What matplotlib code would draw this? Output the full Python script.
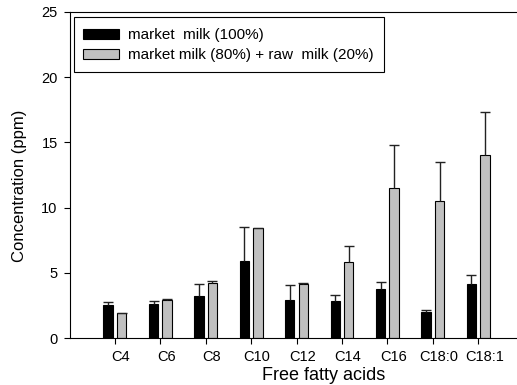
import numpy as np
import matplotlib
matplotlib.use("Agg")
import matplotlib.pyplot as plt
from matplotlib.transforms import ScaledTranslation
from matplotlib.patches import Rectangle

plt.rcParams['font.family'] = ['Liberation Sans', 'DejaVu Sans']

acids = ["C4", "C6", "C8", "C10", "C12", "C14", "C16", "C18:0", "C18:1"]
market_mean = [2.53, 2.60, 3.22, 5.90, 2.91, 2.86, 3.76, 1.99, 4.14]
market_err = [0.28, 0.26, 0.97, 2.60, 1.18, 0.46, 0.56, 0.21, 0.74]
mixed_mean = [1.92, 2.94, 4.22, 8.41, 4.19, 5.83, 11.50, 10.48, 14.06]
mixed_err = [0.03, 0.10, 0.20, 0.04, 0.03, 1.20, 3.28, 3.04, 3.30]

W, H, DPI = 517, 385, 100
fig = plt.figure(figsize=(W / DPI, H / DPI), dpi=DPI)

x0_px, y0_px, ytop_px = 69.5, 338.3, 11.7
unit_px = 45.41
ax = fig.add_axes([x0_px / W, (H - y0_px) / H, 10 * unit_px / W, (y0_px - ytop_px) / H])

pos = np.arange(1, len(acids) + 1)
bw = 0.205
off = 0.149
zeros = np.zeros(len(acids))


def upper_errorbars(x, mean, err):
    # one-sided (upper) error bars: hide the cap sitting on the bar top
    _, caps, _ = ax.errorbar(x, mean, yerr=[zeros, err], fmt="none",
                             ecolor="#222222", elinewidth=1.0,
                             capsize=3.6, capthick=1.0, zorder=3)
    for c in caps:
        if np.allclose(c.get_ydata(), mean):
            c.set_visible(False)


b1 = ax.bar(pos - off, market_mean, bw, color="black", edgecolor="black", linewidth=0.8,
            zorder=2)
b2 = ax.bar(pos + off, mixed_mean, bw, color="#c0c0c0", edgecolor="black", linewidth=0.8,
            zorder=2)
upper_errorbars(pos - off, np.array(market_mean), np.array(market_err))
upper_errorbars(pos + off, np.array(mixed_mean), np.array(mixed_err))

ax.set_xlim(0, 10)
ax.set_ylim(0, 25)
ax.set_xticks(pos)
ax.set_xticklabels(acids)
ax.set_yticks([0, 5, 10, 15, 20, 25])
ax.tick_params(direction="out", length=4.5, width=0.8, labelsize=10.5)
ax.tick_params(axis="y", pad=4)
ax.tick_params(axis="x", pad=4)
shift = ScaledTranslation(6 / DPI, 0, fig.dpi_scale_trans)
for lbl in ax.get_xticklabels():
    lbl.set_transform(lbl.get_transform() + shift)
for s in ax.spines.values():
    s.set_linewidth(0.8)

ax.set_xlabel("Free fatty acids", fontsize=13)
ax.set_ylabel("Concentration (ppm)", fontsize=12)
to_axes = fig.transFigure + ax.transAxes.inverted()
xl = to_axes.transform((324 / W, 1 - 367.5 / H))
ax.xaxis.set_label_coords(xl[0], xl[1])
yl = to_axes.transform((27 / W, 1 - 186 / H))
ax.yaxis.set_label_coords(yl[0], yl[1])

# legend box drawn as a plain rectangle, entries placed inside it
box = Rectangle((74.3 / W, 1 - 71.7 / H), (384 - 74.3) / W, (71.7 - 17.3) / H,
                transform=fig.transFigure, facecolor="white", edgecolor="black",
                linewidth=0.8, zorder=4)
fig.add_artist(box)
leg = fig.legend([b1, b2], ["market  milk (100%)", "market milk (80%) + raw  milk (20%)"],
                 loc="center left", bbox_to_anchor=(83.3 / W, 1 - 45.4 / H),
                 fontsize=11, frameon=False,
                 handlelength=2.36, handleheight=0.65, handletextpad=0.55,
                 borderpad=0, labelspacing=0.4, borderaxespad=0)
leg.set_zorder(5)

fig.savefig("out.png", dpi=DPI)
